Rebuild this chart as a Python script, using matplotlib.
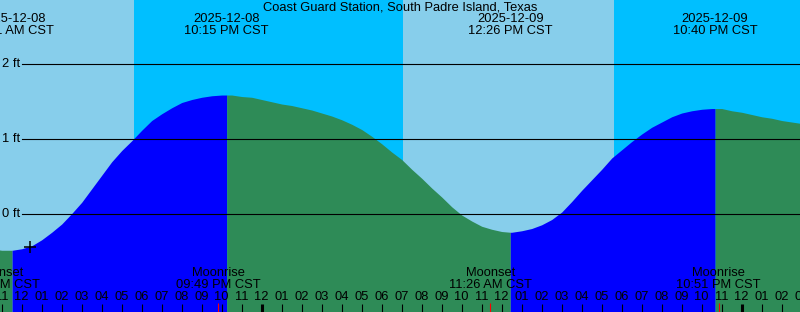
import numpy as np
import matplotlib.pyplot as plt
import matplotlib.transforms as mtransforms

plt.rcParams['font.family'] = ['Liberation Sans', 'DejaVu Sans']

# time axis: hours since 2025-12-08 00:00 CST
tide_hours = np.arange(10.5, 51.01, 0.5)
tide_ft = [-0.46, -0.48, -0.48, -0.46, -0.42, -0.34, -0.24, -0.13, 0.01, 0.16,
           0.34, 0.52, 0.70, 0.85, 0.98, 1.12, 1.25, 1.34, 1.42, 1.49,
           1.53, 1.56, 1.58, 1.59, 1.59, 1.57, 1.56, 1.53, 1.50, 1.47,
           1.45, 1.42, 1.39, 1.35, 1.31, 1.26, 1.20, 1.13, 1.04, 0.94,
           0.83, 0.73, 0.60, 0.48, 0.35, 0.23, 0.10, -0.01, -0.09, -0.16,
           -0.20, -0.23, -0.24, -0.22, -0.19, -0.14, -0.07, 0.03, 0.17, 0.32,
           0.46, 0.60, 0.75, 0.86, 0.97, 1.07, 1.16, 1.23, 1.30, 1.35,
           1.38, 1.40, 1.41, 1.41, 1.38, 1.36, 1.33, 1.30, 1.28, 1.25,
           1.23, 1.21]

extreme_hours = [11.52, 22.25, 36.43, 46.67]
extreme_ft = [-0.48, 1.59, -0.24, 1.41]
extreme_dates = ['2025-12-08', '2025-12-08', '2025-12-09', '2025-12-09']
extreme_times = ['11:31 AM CST', '10:15 PM CST', '12:26 PM CST', '10:40 PM CST']

moon_hours = [10.83, 21.82, 35.43, 46.85]
moon_names = ['Moonset', 'Moonrise', 'Moonset', 'Moonrise']
moon_times = ['10:50 AM CST', '09:49 PM CST', '11:26 AM CST', '10:51 PM CST']

night_start = [17.62, 41.62]
night_end = [31.07, 55.0]

now_hour = 12.42
now_ft = -0.43

feet_levels = [0, 1, 2]
title = 'Coast Guard Station, South Padre Island, Texas'

t0, t1 = 10.915, 50.915
ybot, ytop = -1.303, 2.857
fs = 9.3

fig = plt.figure(figsize=(8, 3.12), dpi=100)
ax = fig.add_axes([0, 0, 1, 1])
ax.set_xlim(t0, t1)
ax.set_ylim(ybot, ytop)
ax.axis('off')
tr = mtransforms.blended_transform_factory(ax.transData, ax.transAxes)

# day / night
ax.axvspan(t0 - 1, t1 + 1, color='#87CEEB', lw=0)
for a, b in zip(night_start, night_end):
    ax.axvspan(a, b, color='#00BFFF', lw=0)

# tide curve, rising = blue, falling = green
t_all = np.concatenate([tide_hours, extreme_hours])
h_all = np.concatenate([tide_ft, extreme_ft])
order = np.argsort(t_all)
t_all, h_all = t_all[order], h_all[order]
edges = [tide_hours[0]] + extreme_hours + [tide_hours[-1]]
colors = ['#2E8B57', '#0000FF', '#2E8B57', '#0000FF', '#2E8B57']
for i in range(len(edges) - 1):
    m = (t_all >= edges[i]) & (t_all <= edges[i + 1])
    ax.fill_between(t_all[m], h_all[m], ybot - 1, color=colors[i], lw=0)

# feet lines
for f in feet_levels:
    ax.axhline(f, xmin=22 / 800, xmax=1, color='black', lw=0.8)
    ax.text(2 / 800, f, f'{f} ft', transform=mtransforms.blended_transform_factory(ax.transAxes, ax.transData),
            ha='left', va='center', fontsize=fs)

ax.plot([now_hour], [now_ft], marker='+', color='black', ms=9, mew=1.1)

# top labels
ax.text(0.5, 1 - 7.5 / 312, title, transform=ax.transAxes, ha='center', va='center', fontsize=fs)
for t, d, s in zip(extreme_hours, extreme_dates, extreme_times):
    ax.text(t, 1 - 19.5 / 312, d, transform=tr, ha='center', va='center', fontsize=fs)
    ax.text(t, 1 - 31.5 / 312, s, transform=tr, ha='center', va='center', fontsize=fs)

# moon events
for t, n, s in zip(moon_hours, moon_names, moon_times):
    ax.text(t, 1 - 273.5 / 312, n, transform=tr, ha='center', va='center', fontsize=fs)
    ax.text(t, 1 - 285.5 / 312, s, transform=tr, ha='center', va='center', fontsize=fs)

# hour ticks
for h in range(10, 52):
    ax.text(h, 1 - 297 / 312, f'{(h - 1) % 12 + 1:02d}', transform=tr,
            ha='center', va='center', fontsize=fs)
    if h % 24 == 0:
        ax.plot([h, h], [0, 8 / 312], transform=tr, color='black', lw=2.2, solid_capstyle='butt')
    else:
        ax.plot([h, h], [0, 8 / 312], transform=tr, color='black', lw=0.8, solid_capstyle='butt')
for t in moon_hours:
    ax.plot([t, t], [0, 9 / 312], transform=tr, color='red', lw=0.8, solid_capstyle='butt')

fig.savefig('out.png', dpi=100)
